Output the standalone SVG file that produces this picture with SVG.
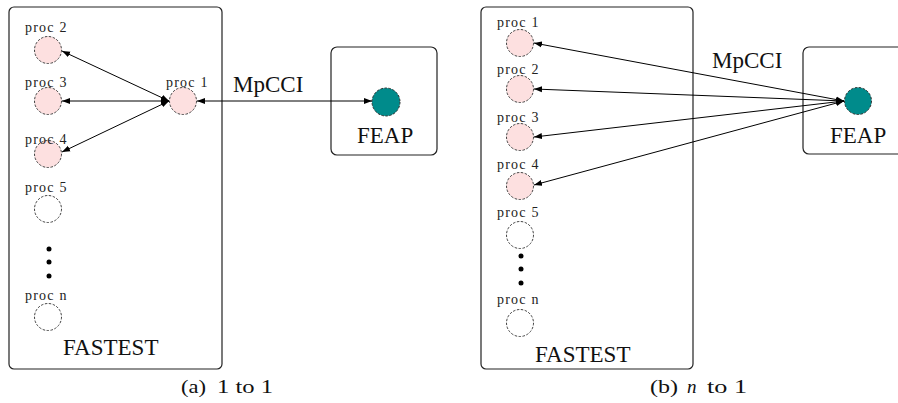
<svg xmlns="http://www.w3.org/2000/svg" width="898" height="403" viewBox="0 0 898 403">
<defs>
<marker id="ah" markerUnits="userSpaceOnUse" markerWidth="9" markerHeight="7" refX="8" refY="3.5" orient="auto-start-reverse">
<path d="M0,0.5 L8,3.5 L0,6.5 z" fill="#000"/>
</marker>
<style>
.panel{fill:#fff;stroke:#222;stroke-width:1.2}
.proc{fill:#fde0e0;stroke:#444;stroke-width:1;stroke-dasharray:2.5 1.5}
.idle{fill:#fff;stroke:#444;stroke-width:1;stroke-dasharray:2.5 1.5}
.feap{fill:#008b8b;stroke:#333;stroke-width:1;stroke-dasharray:2.5 1.5}
text{font-family:'Liberation Serif','Times New Roman','DejaVu Serif',serif}
.lbl{font-size:14px;letter-spacing:1.2px;fill:#222}
.big{font-size:23px;fill:#111}
.cap{font-size:19px;fill:#111}
.dot{fill:#000}
.conn{stroke:#000;stroke-width:1;fill:none;marker-start:url(#ah);marker-end:url(#ah)}
</style>
</defs>
<rect width="898" height="403" fill="#fff"/>

<!-- Panel (a) -->
<g id="fastest-a">
<rect class="panel" x="9" y="7" width="213" height="362" rx="5"/>
<text class="big" x="63" y="355">FASTEST</text>
</g>
<g id="a-proc2"><circle class="proc" cx="48" cy="50" r="13.5"/><text class="lbl" x="25" y="32">proc 2</text></g>
<g id="a-proc3"><circle class="proc" cx="48" cy="101" r="13.5"/><text class="lbl" x="25" y="87">proc 3</text></g>
<g id="a-proc4"><circle class="proc" cx="48" cy="154" r="13.5"/><text class="lbl" x="25" y="144">proc 4</text></g>
<g id="a-proc5"><circle class="idle" cx="48" cy="209" r="13.5"/><text class="lbl" x="25" y="192">proc 5</text></g>
<g id="a-dots"><circle class="dot" cx="49" cy="249" r="2.5"/><circle class="dot" cx="49" cy="262" r="2.5"/><circle class="dot" cx="49" cy="276" r="2.5"/></g>
<g id="a-procn"><circle class="idle" cx="48" cy="317" r="13.5"/><text class="lbl" x="25" y="300">proc n</text></g>
<g id="a-proc1"><circle class="proc" cx="183" cy="101" r="13.5"/><text class="lbl" x="166" y="87">proc 1</text></g>
<g id="a-feap">
<rect class="panel" x="331" y="47" width="106" height="108" rx="6"/>
<circle class="feap" cx="386" cy="102" r="14"/>
<text class="big" x="357" y="143">FEAP</text>
</g>
<text class="big" x="233" y="92">MpCCI</text>

<!-- Panel (b) -->
<g id="fastest-b">
<rect class="panel" x="481" y="7" width="212" height="362" rx="5"/>
<text class="big" x="535" y="362">FASTEST</text>
</g>
<g id="b-proc1"><circle class="proc" cx="520" cy="43" r="13.5"/><text class="lbl" x="497" y="27">proc 1</text></g>
<g id="b-proc2"><circle class="proc" cx="520" cy="89" r="13.5"/><text class="lbl" x="497" y="74">proc 2</text></g>
<g id="b-proc3"><circle class="proc" cx="520" cy="137" r="13.5"/><text class="lbl" x="497" y="122">proc 3</text></g>
<g id="b-proc4"><circle class="proc" cx="520" cy="186" r="13.5"/><text class="lbl" x="497" y="169">proc 4</text></g>
<g id="b-proc5"><circle class="idle" cx="520" cy="235" r="13.5"/><text class="lbl" x="497" y="217">proc 5</text></g>
<g id="b-dots"><circle class="dot" cx="521" cy="256" r="2.5"/><circle class="dot" cx="521" cy="269" r="2.5"/><circle class="dot" cx="521" cy="283" r="2.5"/></g>
<g id="b-procn"><circle class="idle" cx="520" cy="323" r="13.5"/><text class="lbl" x="497" y="304">proc n</text></g>
<g id="b-feap">
<rect class="panel" x="803" y="47" width="110" height="107" rx="6"/>
<circle class="feap" cx="858" cy="101" r="13.5"/>
<text class="big" x="830" y="143">FEAP</text>
</g>
<text class="big" x="712" y="68">MpCCI</text>

<!-- Connectors -->
<g id="connectors">
<line class="conn" x1="169" y1="101" x2="62" y2="51"/>
<line class="conn" x1="169" y1="101" x2="62" y2="101"/>
<line class="conn" x1="169" y1="101" x2="62" y2="152"/>
<line class="conn" x1="197" y1="101" x2="372" y2="101"/>
<line class="conn" x1="844" y1="101" x2="534" y2="43"/>
<line class="conn" x1="844" y1="101" x2="534" y2="89"/>
<line class="conn" x1="844" y1="101" x2="534" y2="137"/>
<line class="conn" x1="844" y1="101" x2="534" y2="185"/>
</g>

<!-- Captions -->
<text class="cap" y="393"><tspan x="181" textLength="25" lengthAdjust="spacingAndGlyphs">(a)</tspan><tspan x="217" textLength="56" lengthAdjust="spacingAndGlyphs">1 to 1</tspan></text>
<text class="cap" y="393"><tspan x="650" textLength="28" lengthAdjust="spacingAndGlyphs">(b)</tspan><tspan x="687" font-style="italic">n</tspan><tspan x="707" textLength="40" lengthAdjust="spacingAndGlyphs">to 1</tspan></text>
</svg>
